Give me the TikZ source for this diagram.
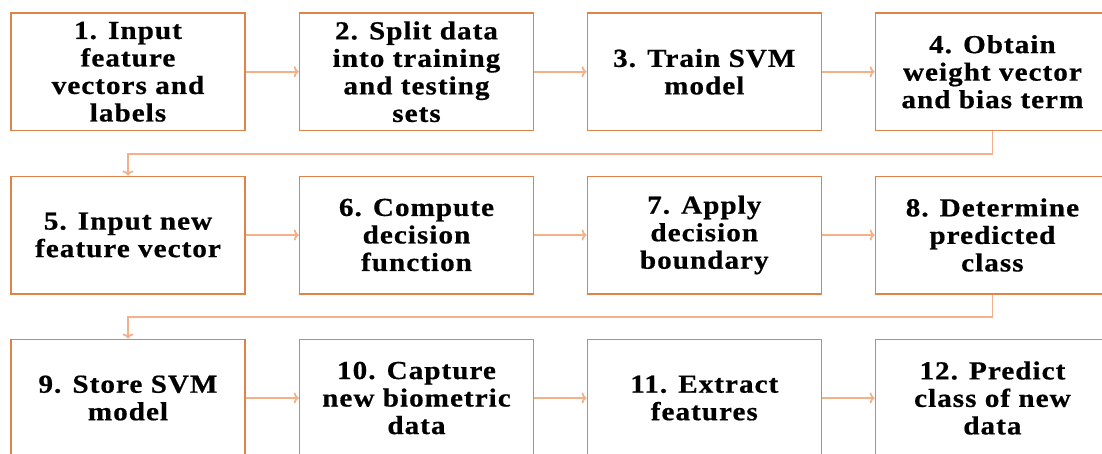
\documentclass[tikz,border=0pt]{standalone}
\usepackage{fontspec}
\newfontfamily\boxfont[FakeStretch=1.12,LetterSpace=4,FakeBold=0.6]{Liberation Serif Bold}
\usetikzlibrary{arrows.meta}
\definecolor{boxline}{HTML}{E0834A}
\definecolor{flowline}{HTML}{F4B088}

\begin{document}
\begin{tikzpicture}[x=1pt,y=-1pt,
  stepbox/.style={draw=boxline, line width=1.5pt, minimum width=234pt,
    minimum height=117.5pt, inner sep=0pt, align=center,
    font=\boxfont\fontsize{26}{27.5}\selectfont},
  flow/.style={draw=flowline, line width=1.8pt, -{To[length=5pt,width=11pt]}}]
\useasboundingbox (0,0) rectangle (1102,453);
\clip (0,0) rectangle (1102,453);
\fill[white] (0,0) rectangle (1102,453);

% row 1
\node[stepbox] (b1) at (128,71.75)   {1. Input\\feature\\vectors and\\labels};
\node[stepbox] (b2) at (416.5,71.75) {2. Split data\\into training\\and testing\\sets};
\node[stepbox] (b3) at (704.3,71.75) {3. Train SVM\\model};
\node[stepbox] (b4) at (992.4,71.75) {4. Obtain\\weight vector\\and bias term};
% row 2
\node[stepbox] (b5) at (128,235)     {5. Input new\\feature vector};
\node[stepbox] (b6) at (416.5,235)   {6. Compute\\decision\\function};
\node[stepbox] (b7) at (704.3,235)   {7. Apply\\decision\\boundary};
\node[stepbox] (b8) at (992.4,235)   {8. Determine\\predicted\\class};
% row 3
\node[stepbox] (b9)  at (128,398)     {9. Store SVM\\model};
\node[stepbox] (b10) at (416.5,398)   {10. Capture\\new biometric\\data};
\node[stepbox] (b11) at (704.3,398)   {11. Extract\\features};
\node[stepbox] (b12) at (992.4,398)   {12. Predict\\class of new\\data};

% straight links within each row
\foreach \a/\b in {b1/b2,b2/b3,b3/b4,b5/b6,b6/b7,b7/b8,b9/b10,b10/b11,b11/b12}
  \draw[flow] (\a.east) -- (\b.west);

% elbow links between rows
\draw[flow] (b4.south) -- ++(0,22.5) -| (b5.north);
\draw[flow] (b8.south) -- ++(0,22.5) -| (b9.north);
\end{tikzpicture}
\end{document}
